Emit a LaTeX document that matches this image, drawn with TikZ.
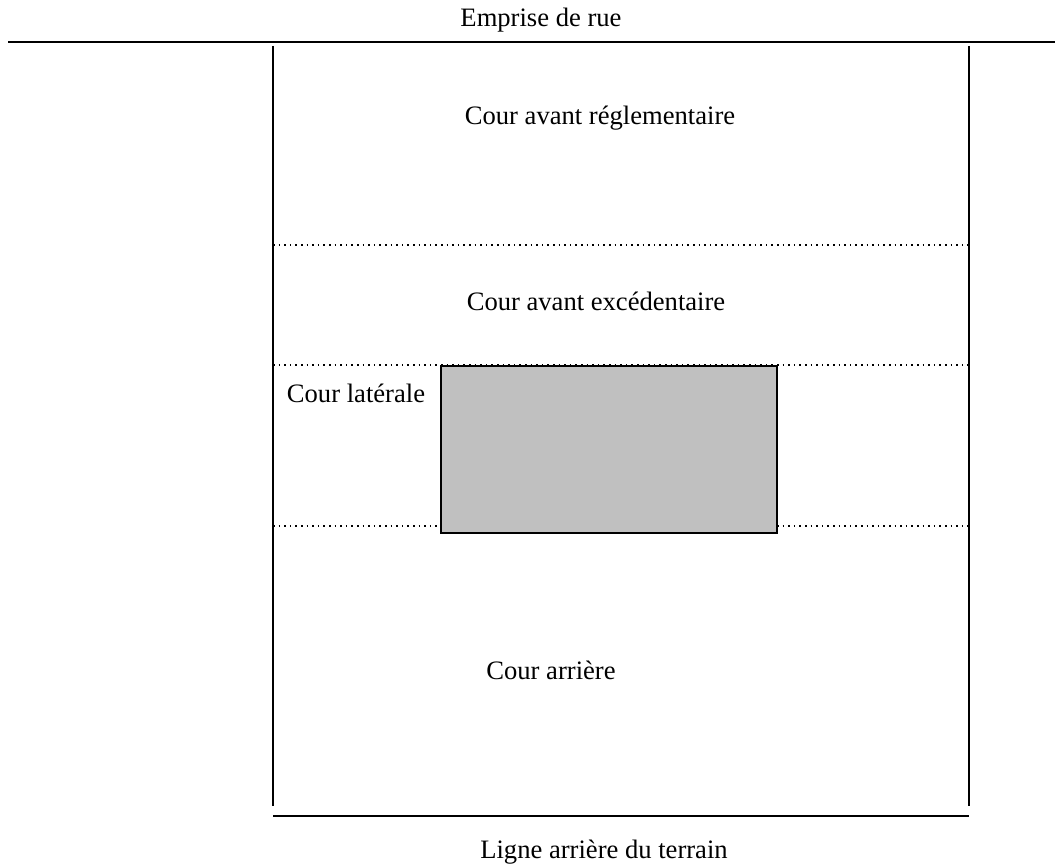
\documentclass[tikz,border=0pt]{standalone}
\usepackage{fontspec}
\setmainfont{Liberation Serif}
\usetikzlibrary{positioning}

\begin{document}
\begin{tikzpicture}[
    x=0.5pt, y=-0.5pt,
    lbl/.style={draw=none, inner sep=0pt, font=\fontsize{13.3}{16}\selectfont},
    edge/.style={line width=1.1pt},
    zone/.style={dotted, line width=0.8pt},
    bati/.style={draw, line width=1.1pt, fill={rgb,255:red,192;green,192;blue,192}}
]
\useasboundingbox (0,0) rectangle (1055,865);

% Limites du terrain
\coordinate (RueW) at (8, 42);
\coordinate (RueE) at (1055, 42);
\coordinate (NW) at (273, 46);
\coordinate (NE) at (969, 46);
\coordinate (SW) at (273, 806);
\coordinate (SE) at (969, 806);
\coordinate (ArrW) at (273, 816);
\coordinate (ArrE) at (969, 816);

\draw[edge] (RueW) -- (RueE);
\draw[edge] (NW) -- (SW);
\draw[edge] (NE) -- (SE);
\draw[edge] (ArrW) -- (ArrE);

% Lignes des cours
\draw[zone] (273, 245) -- (969, 245);
\draw[zone] (273, 365) -- (969, 365);
\draw[zone] (273, 526) -- (969, 526);

% Batiment
\node (Bati) at (609, 449.5) [bati, minimum width=168pt, minimum height=83.5pt] {};

% Textes
\node (Rue) at (541, 20) [lbl] {Emprise de rue};
\node (Regl) at (600, 118) [lbl] {Cour avant réglementaire};
\node (Exc) at (596, 301) [lbl] {Cour avant excédentaire};
\node (Lat) at (356, 393) [lbl] {Cour latérale};
\node (Arr) at (551, 670) [lbl] {Cour arrière};
\node (Ligne) at (604, 852) [lbl] {Ligne arrière du terrain};
\end{tikzpicture}
\end{document}
